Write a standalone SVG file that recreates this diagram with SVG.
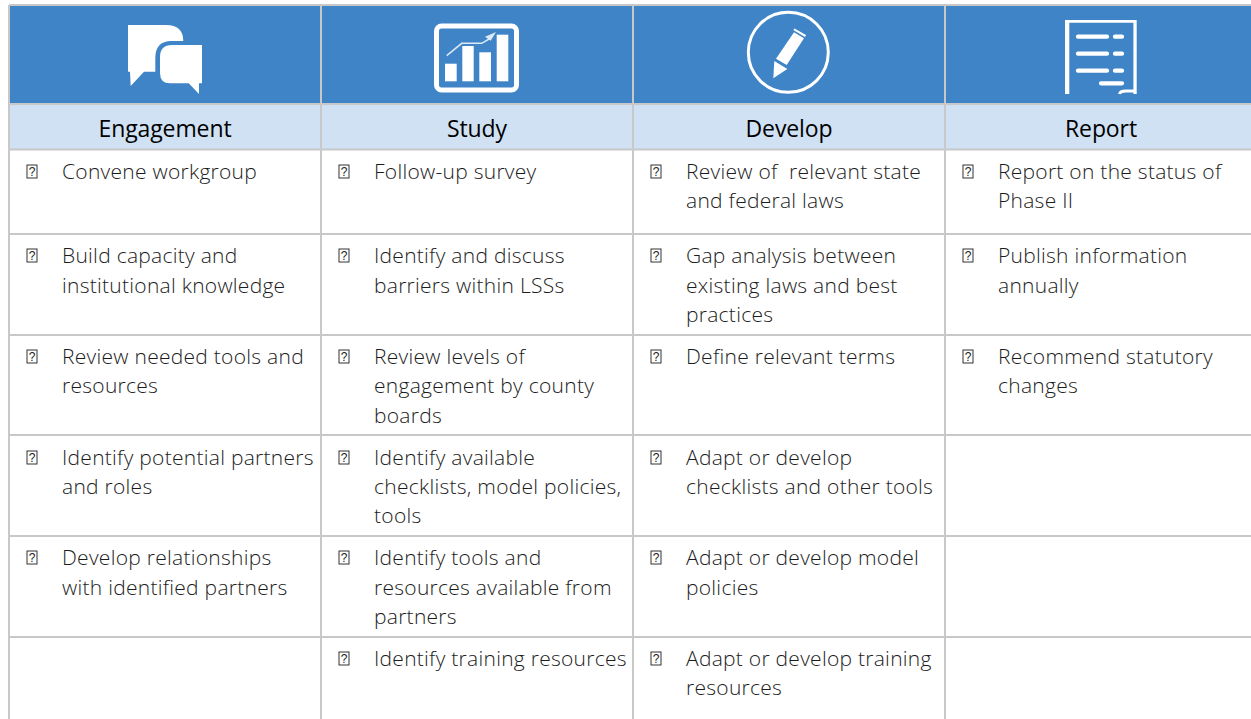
<svg xmlns="http://www.w3.org/2000/svg" width="1251" height="719" viewBox="0 0 1251 719">
<style>
.t{font-family:"Open Sans","Noto Sans",sans-serif;font-weight:300;font-size:21px;letter-spacing:.27px;fill:#1c1c1c}
.h{font-family:"Open Sans","Noto Sans",sans-serif;font-weight:400;font-size:23px;letter-spacing:-.1px;fill:#000;text-anchor:middle}
.q{font-family:"Liberation Sans",sans-serif;font-size:12px;fill:#222;text-anchor:middle}
.r{fill:none;stroke:#333;stroke-width:1}
.g{stroke:#c8c8c8;stroke-width:2;fill:none}
.w{fill:#fff}
</style>
<defs><rect id="box" class="r" width="10" height="13"/></defs>
<rect width="1251" height="719" fill="#fff"/>
<rect x="9" y="5" width="1242" height="98" fill="#3e84c6"/>
<rect x="9" y="104" width="1242" height="45" fill="#cfe1f3"/>
<g id="connectors" class="g">
<path d="M9 5H1251M9 104H1251M9 149.500H1251M9 234H1251M9 335H1251M9 435H1251M9 536H1251M9 637H1251"/>
<path d="M9 5V719M321 5V719M633 5V719M945 5V719"/>
</g>
<g id="icon-engagement"><path class="w" d="M128 25H166Q183.300 25 183.300 41H170Q155.300 42 155.300 58V71.700H144L130.700 86L130 71.700H128Z"/><path class="w" d="M172 45H202V83.300H199V94L188.700 83.300H170Q160 83.300 160 73V57Q160 45 172 45Z"/></g>
<g id="icon-study"><rect x="436.500" y="26" width="80" height="64" rx="5" fill="none" stroke="#fff" stroke-width="5"/><rect class="w" x="445" y="63.700" width="11.700" height="17.600"/><rect class="w" x="462.300" y="46" width="11.400" height="35.300"/><rect class="w" x="479.300" y="52.300" width="11.700" height="29"/><rect class="w" x="496.700" y="34.700" width="11.600" height="46.600"/><path d="M446.700 55.700L461.700 43.300H481.700L490 38.500" fill="none" stroke="#dce9f6" stroke-width="1.500"/><path d="M496 32L485 36.700L490.700 40.700Z" fill="#dce9f6"/></g>
<g id="icon-develop"><circle cx="788.300" cy="52.300" r="40" fill="none" stroke="#fff" stroke-width="3"/><path class="w" d="M794 32.300L804 38.300L786.700 65L776 58.700Z"/><path class="w" d="M793.300 30L794.500 28.500L806 35L805 37Z"/><path class="w" d="M774.300 61L787.300 69L773.300 78.300Z"/></g>
<g id="icon-report"><path class="w" d="M1065 20H1136.700V94H1133.400V22.700H1069.300V94H1065Z"/><path d="M1078 36.700H1107M1115 36.700H1122M1078 53.700H1107M1115 53.700H1122M1078 70.700H1107M1115 70.700H1122M1101 83.300H1122" fill="none" stroke="#fff" stroke-width="4.300" stroke-linecap="round"/><path d="M1119.500 94Q1120 91 1126 91H1135" fill="none" stroke="#fff" stroke-width="3"/></g>
<g id="header-engagement"><text class="h" x="165" y="137">Engagement</text></g>
<g id="header-study"><text class="h" x="477" y="137">Study</text></g>
<g id="header-develop"><text class="h" x="789" y="137">Develop</text></g>
<g id="header-report"><text class="h" x="1101" y="137">Report</text></g>
<g id="col-engagement">
<use href="#box" x="27" y="165"/><text class="q" x="32" y="176">?</text><text class="t" x="62" y="179">Convene workgroup</text>
<use href="#box" x="27" y="249"/><text class="q" x="32" y="260">?</text><text class="t" x="62" y="263">Build capacity and</text><text class="t" x="62" y="293">institutional knowledge</text>
<use href="#box" x="27" y="350"/><text class="q" x="32" y="361">?</text><text class="t" x="62" y="364">Review needed tools and</text><text class="t" x="62" y="393">resources</text>
<use href="#box" x="27" y="451"/><text class="q" x="32" y="462">?</text><text class="t" x="62" y="465">Identify potential partners</text><text class="t" x="62" y="494">and roles</text>
<use href="#box" x="27" y="551"/><text class="q" x="32" y="562">?</text><text class="t" x="62" y="565">Develop relationships</text><text class="t" x="62" y="595">with identified partners</text>
</g>
<g id="col-study">
<use href="#box" x="339" y="165"/><text class="q" x="344" y="176">?</text><text class="t" x="374" y="179">Follow-up survey</text>
<use href="#box" x="339" y="249"/><text class="q" x="344" y="260">?</text><text class="t" x="374" y="263">Identify and discuss</text><text class="t" x="374" y="293">barriers within LSSs</text>
<use href="#box" x="339" y="350"/><text class="q" x="344" y="361">?</text><text class="t" x="374" y="364">Review levels of</text><text class="t" x="374" y="393">engagement by county</text><text class="t" x="374" y="423">boards</text>
<use href="#box" x="339" y="451"/><text class="q" x="344" y="462">?</text><text class="t" x="374" y="465">Identify available</text><text class="t" x="374" y="494">checklists, model policies,</text><text class="t" x="374" y="523">tools</text>
<use href="#box" x="339" y="551"/><text class="q" x="344" y="562">?</text><text class="t" x="374" y="565">Identify tools and</text><text class="t" x="374" y="595">resources available from</text><text class="t" x="374" y="624">partners</text>
<use href="#box" x="339" y="652"/><text class="q" x="344" y="663">?</text><text class="t" x="374" y="666">Identify training resources</text>
</g>
<g id="col-develop">
<use href="#box" x="651" y="165"/><text class="q" x="656" y="176">?</text><text class="t" x="686" y="179" xml:space="preserve">Review of  relevant state</text><text class="t" x="686" y="208">and federal laws</text>
<use href="#box" x="651" y="249"/><text class="q" x="656" y="260">?</text><text class="t" x="686" y="263">Gap analysis between</text><text class="t" x="686" y="293">existing laws and best</text><text class="t" x="686" y="322">practices</text>
<use href="#box" x="651" y="350"/><text class="q" x="656" y="361">?</text><text class="t" x="686" y="364">Define relevant terms</text>
<use href="#box" x="651" y="451"/><text class="q" x="656" y="462">?</text><text class="t" x="686" y="465">Adapt or develop</text><text class="t" x="686" y="494">checklists and other tools</text>
<use href="#box" x="651" y="551"/><text class="q" x="656" y="562">?</text><text class="t" x="686" y="565">Adapt or develop model</text><text class="t" x="686" y="595">policies</text>
<use href="#box" x="651" y="652"/><text class="q" x="656" y="663">?</text><text class="t" x="686" y="666">Adapt or develop training</text><text class="t" x="686" y="695">resources</text>
</g>
<g id="col-report">
<use href="#box" x="963" y="165"/><text class="q" x="968" y="176">?</text><text class="t" x="998" y="179">Report on the status of</text><text class="t" x="998" y="208">Phase II</text>
<use href="#box" x="963" y="249"/><text class="q" x="968" y="260">?</text><text class="t" x="998" y="263">Publish information</text><text class="t" x="998" y="293">annually</text>
<use href="#box" x="963" y="350"/><text class="q" x="968" y="361">?</text><text class="t" x="998" y="364">Recommend statutory</text><text class="t" x="998" y="393">changes</text>
</g>
</svg>
